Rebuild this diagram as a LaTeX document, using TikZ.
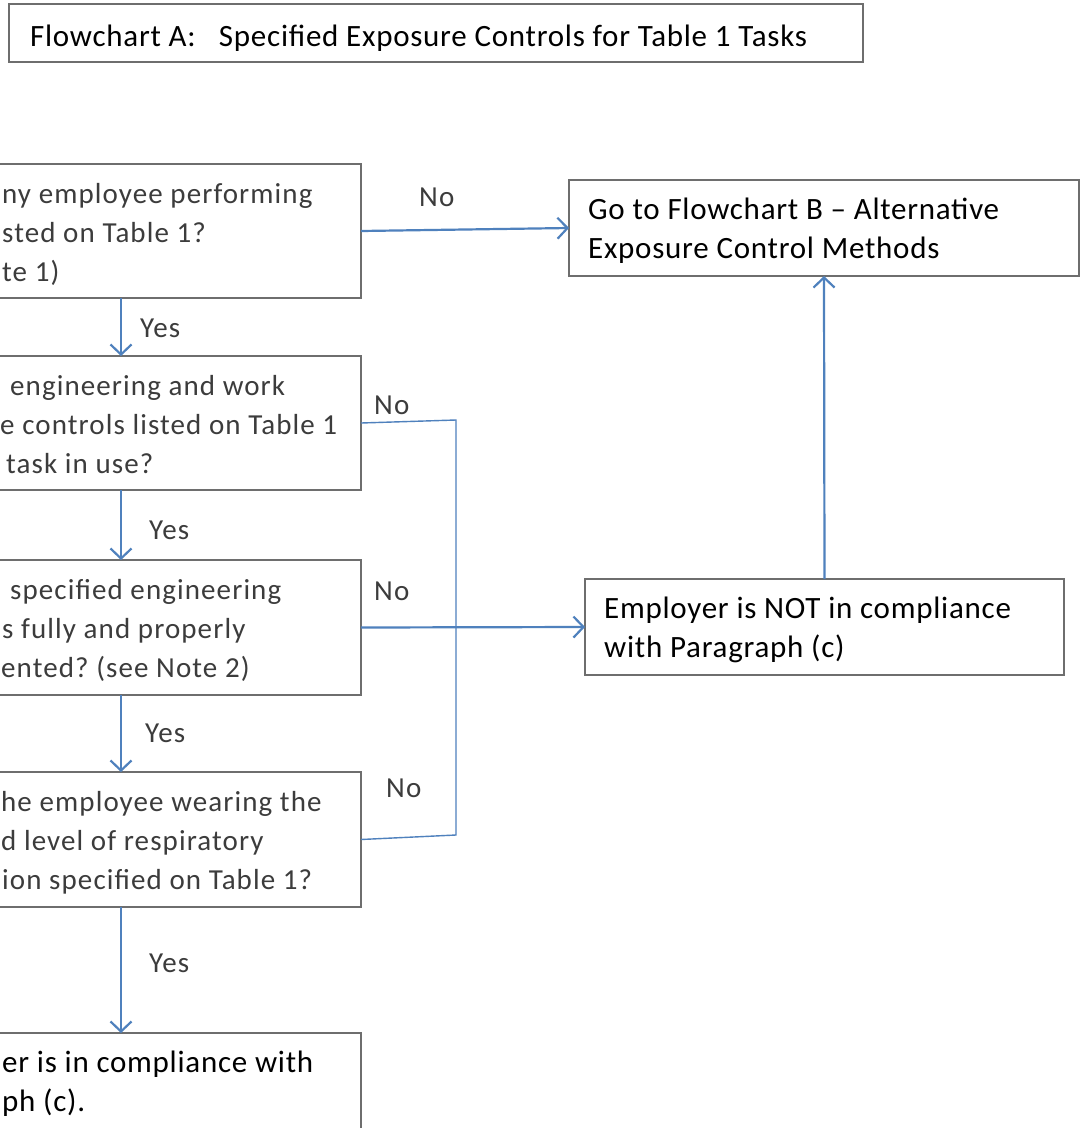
\documentclass[tikz,border=0pt]{standalone}
\usepackage{fontspec}
\setmainfont{Carlito}
\usetikzlibrary{arrows.meta}
\frenchspacing
\definecolor{boxline}{HTML}{6E6E6E}
\definecolor{flowblue}{HTML}{4F81BD}
\definecolor{qtext}{HTML}{3C3C3C}
\tikzset{
  box/.style={draw=boxline, line width=1.5pt, inner sep=0pt, outer sep=0pt, rectangle},
  qline/.style={anchor=base west, inner sep=0pt, text=qtext, font=\fontsize{29}{39}\selectfont\addfontfeatures{LetterSpace=3.8}\frenchspacing},
  rline/.style={anchor=base west, inner sep=0pt, text=black, font=\fontsize{31}{39}\selectfont\addfontfeatures{LetterSpace=2.4}\frenchspacing},
  lbl/.style={anchor=base west, inner sep=0pt, text=qtext, font=\fontsize{29}{36}\selectfont\addfontfeatures{LetterSpace=4}},
  flow/.style={draw=flowblue, line width=2.2pt, -{Straight Barb[length=10pt,width=21pt,line width=2.2pt]}},
  thinflow/.style={draw=flowblue, line width=1.4pt}
}
\begin{document}
\begin{tikzpicture}[x=1pt,y=-1pt]
\useasboundingbox (0,0) rectangle (1080,1128);
\clip (0,0) rectangle (1080,1128);
\fill[white] (0,0) rectangle (1080,1128);

% boxes
\node[box, minimum width=854pt, minimum height=58pt] (title) at (436,33) {};
\node[box, minimum width=480pt, minimum height=134pt] (q1) at (121,231) {};
\node[box, minimum width=480pt, minimum height=134pt] (q2) at (121,423) {};
\node[box, minimum width=480pt, minimum height=135pt] (q3) at (121,627.5) {};
\node[box, minimum width=480pt, minimum height=135pt] (q4) at (121,839.5) {};
\node[box, minimum width=480pt, minimum height=134pt] (fin) at (121,1100) {};
\node[box, minimum width=510pt, minimum height=96pt] (gob) at (824,228) {};
\node[box, minimum width=479pt, minimum height=96pt] (nott) at (824.5,627) {};

% title text
\node[rline] (ttl) at (30,46) {Flowchart A:\ \ \ Specified Exposure Controls for Table 1 Tasks};

% question texts
\node[qline] (q1a) at (2,203) {ny employee performing};
\node[qline] (q1b) at (2,242) {sted on Table 1?};
\node[qline] (q1c) at (2,281) {te 1)};

\node[qline] (q2a) at (10,395) {engineering and work};
\node[qline] (q2b) at (0,434) {e controls listed on Table 1};
\node[qline] (q2c) at (6,473) {task in use?};

\node[qline] (q3a) at (10,599) {specified engineering};
\node[qline] (q3b) at (2,638) {s fully and properly};
\node[qline] (q3c) at (1,677) {ented? (see Note 2)};

\node[qline] (q4a) at (1,811) {he employee wearing the};
\node[qline] (q4b) at (1,850) {d level of respiratory};
\node[qline] (q4c) at (2,889) {ion specified on Table 1?};

\node[rline] (fina) at (2,1072) {er is in compliance with};
\node[rline] (finb) at (2,1111) {ph (c).};

\node[rline] (goba) at (588,219) {Go to Flowchart B -- Alternative};
\node[rline] (gobb) at (588,258) {Exposure Control Methods};

\node[rline] (nota) at (604,618) {Employer is NOT in compliance};
\node[rline] (notb) at (604,657) {with Paragraph (c)};

% connectors
\draw[flow] (q1.east) -- (gob.west);
\draw[flow] (q1.south) -- (q2.north);
\draw[flow] (q2.south) -- (q3.north);
\draw[flow] (q3.south) -- (q4.north);
\draw[flow] (q4.south) -- (fin.north);
\draw[flow] (q3.east) -- (nott.west);
\draw[flow] (nott.north) -- (gob.south);
\coordinate (b1) at (456,420);
\coordinate (b2) at (456,835);
\draw[thinflow] (q2.east) -- (b1) -- (b2) -- (q4.east);

% labels
\node[lbl] (l1) at (419,206) {No};
\node[lbl] (l2) at (140,337) {Yes};
\node[lbl] (l3) at (374,414) {No};
\node[lbl] (l4) at (149,539) {Yes};
\node[lbl] (l5) at (374,600) {No};
\node[lbl] (l6) at (145,742) {Yes};
\node[lbl] (l7) at (386,797) {No};
\node[lbl] (l8) at (149,972) {Yes};
\end{tikzpicture}
\end{document}
